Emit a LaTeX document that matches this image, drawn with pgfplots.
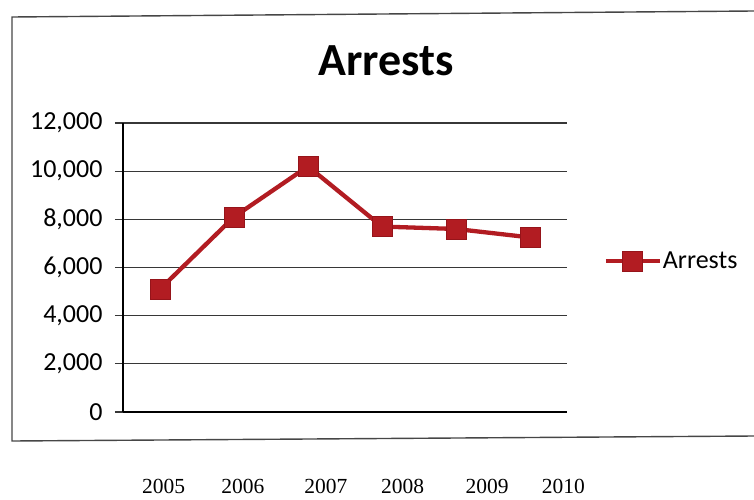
\documentclass[border=0pt]{standalone}
\usepackage{pgfplots}
\pgfplotsset{compat=1.18}
\usepackage{fontspec}
\setmainfont{Carlito}
\newfontfamily\yearfont{Liberation Serif}
\definecolor{seriesred}{RGB}{178,28,34}
\definecolor{seriesedge}{RGB}{150,20,26}
\definecolor{gridgray}{RGB}{55,55,55}
\definecolor{framegray}{RGB}{70,70,70}

\begin{document}
\begin{tikzpicture}[x=1pt,y=1pt]
% page extent; the axis' lower-left corner sits at the origin
\path[use as bounding box] (-123,-87) rectangle (631,412);
% chart frame
\draw[framegray, line width=1.4pt] (631,401) -- (-111,395) -- (-111,-29) -- (631,-24);

\begin{axis}[
  at={(0,0)}, anchor=south west,
  scale only axis, width=444pt, height=289pt,
  xmin=-0.5, xmax=5.5, ymin=0, ymax=12000,
  axis x line=bottom, axis y line=left,
  axis line style={black, line width=1.6pt, -},
  ytick={0,2000,...,12000},
  ymajorgrids, grid style={gridgray, line width=1.3pt},
  tick align=outside, major tick length=8pt,
  y tick style={gridgray, line width=1.3pt},
  x tick style={draw=none},
  xtick={0.05,1.12,2.24,3.28,4.42,5.45},
  xticklabels={2005,2006,2007,2008,2009,2010},
  xticklabel style={font=\yearfont\fontsize{21.5}{25}\selectfont, anchor=center, yshift=-66pt},
  yticklabel style={font=\fontsize{26}{30}\selectfont, xshift=-9pt},
  /pgf/number format/assume math mode=true,
  /pgf/number format/1000 sep={,},
  scaled y ticks=false,
  clip=false,
  legend style={at={(1.082,0.522)}, anchor=west, draw=none, fill=none,
    inner sep=0pt, font=\fontsize{26}{30}\selectfont,
    nodes={inner sep=1pt}},
  legend image code/.code={
    \draw[mark repeat=2, mark phase=2] plot coordinates {(0pt,0pt)(27pt,0pt)(54pt,0pt)};
  },
]
\addplot[seriesred, line width=4.3pt, mark=square*,
  mark size=10pt, mark options={fill=seriesred, draw=seriesedge, line width=0.6pt}]
  coordinates {(0,5100) (1,8100) (2,10200) (3,7700) (4,7600) (5,7250)};
\addlegendentry{Arrests}
\end{axis}

\node[font=\bfseries\fontsize{46}{52}\selectfont, anchor=center] at (263,351) {Arrests};
\end{tikzpicture}
\end{document}
